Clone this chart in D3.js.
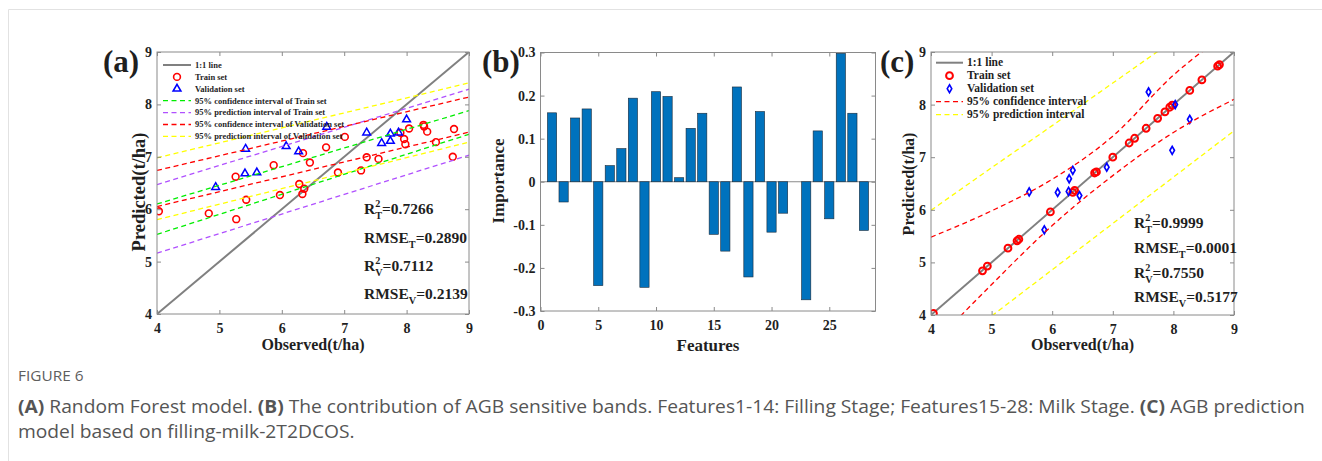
<!DOCTYPE html>
<html>
<head>
<meta charset="utf-8">
<script src="https://cdn.jsdelivr.net/npm/d3@7"></script>
<style>
  body { margin: 0; background: #fff; }
</style>
</head>
<body>
<svg id="fig" width="1322" height="461"></svg>
<script>
// ---------- data ----------
// (a) Random Forest model
var trainObsA  = [4.03, 4.83, 5.27, 5.26, 5.43, 5.87, 5.97, 6.28, 6.33, 6.36, 6.34, 6.45, 6.71, 6.90, 7.01, 7.27, 7.36, 7.55, 7.90, 7.96, 7.98, 8.04, 8.27, 8.28, 8.33, 8.47, 8.74, 8.76];
var trainPredA = [5.96, 5.92, 5.81, 6.62, 6.18, 6.84, 6.27, 6.48, 6.29, 6.39, 7.07, 6.89, 7.18, 6.70, 7.38, 6.74, 6.99, 6.96, 7.46, 7.34, 7.24, 7.54, 7.61, 7.58, 7.48, 7.28, 7.00, 7.53];
var valObsA  = [4.94, 5.41, 5.42, 5.60, 6.07, 6.27, 6.72, 7.36, 7.60, 7.74, 7.74, 7.87, 8.00];
var valPredA = [6.42, 6.68, 7.15, 6.70, 7.20, 7.10, 7.57, 7.46, 7.26, 7.30, 7.44, 7.46, 7.71];
var intervalXA = [4, 9];
var intervalNamesA = ["95% confidence interval of Train set", "95% prediction interval of Train set",
                      "95% confidence interval of Validation set", "95% prediction interval of Validation set"];
var intervalUpperA = [[6.10, 7.88], [6.47, 8.29], [6.74, 8.14], [6.98, 8.41]];
var intervalLowerA = [[5.52, 7.43], [5.16, 7.03], [6.05, 7.47], [5.80, 7.28]];
var statsA = [["R", "2", "T", "=0.7266"], ["RMSE", "", "T", "=0.2890"], ["R", "2", "V", "=0.7112"], ["RMSE", "", "V", "=0.2139"]];

// (b) contribution of the sensitive bands
var featureImportance = [0.160, -0.047, 0.148, 0.169, -0.241, 0.0375, 0.077, 0.194, -0.245, 0.209, 0.198, 0.0094, 0.124, 0.159,
                         -0.122, -0.161, 0.220, -0.221, 0.163, -0.117, -0.073, 0, -0.274, 0.118, -0.086, 0.298, 0.159, -0.113];
var featureTicks = [0, 5, 10, 15, 20, 25];
var importanceTicks = [-0.3, -0.2, -0.1, 0, 0.1, 0.2, 0.3];

// (c) filling-milk-2T2DCOS model
var trainObsC  = [4.04, 4.85, 4.93, 5.27, 5.42, 5.45, 5.97, 6.34, 6.37, 6.70, 6.73, 7.00, 7.27, 7.36, 7.55, 7.74, 7.86, 7.94, 7.98, 8.27, 8.47, 8.73, 8.76];
var trainPredC = [4.03, 4.84, 4.93, 5.27, 5.41, 5.44, 5.96, 6.33, 6.37, 6.70, 6.72, 7.00, 7.27, 7.36, 7.55, 7.74, 7.86, 7.95, 7.99, 8.27, 8.47, 8.73, 8.76];
var valObsC  = [5.62, 5.87, 6.09, 6.27, 6.28, 6.34, 6.45, 6.90, 7.59, 7.98, 8.03, 8.27];
var valPredC = [6.34, 5.62, 6.33, 6.35, 6.59, 6.75, 6.27, 6.81, 8.24, 7.13, 8.00, 7.72];
var intervalXC = [4, 5, 6, 7, 8, 9];
var intervalNamesC = ["95% confidence interval", "95% prediction interval"];
var intervalUpperC = [[5.48, 5.98, 6.58, 7.40, 8.56, 9.45], [5.99, 6.80, 7.60, 8.41, 9.22, 10.03]];
var intervalLowerC = [[3.40, 4.58, 5.70, 6.65, 7.47, 8.10], [3.10, 3.98, 4.86, 5.74, 6.62, 7.50]];
var statsC = [["R", "2", "T", "=0.9999"], ["RMSE", "", "T", "=0.0001"], ["R", "2", "V", "=0.7550"], ["RMSE", "", "V", "=0.5177"]];

var agbTicks = [4, 5, 6, 7, 8, 9];

// ---------- look ----------
var SERIF = "'Liberation Serif','Times New Roman',serif";
var AXIS_GREY = "#8a8a8a";
var INK = "#1f1f1f";

var fig = d3.select("#fig");

// thin page frame (top and left)
fig.append("line").attr("x1", 8.5).attr("y1", 9.5).attr("x2", 1322).attr("y2", 9.5).attr("stroke", "#e2e2e2");
fig.append("line").attr("x1", 8.5).attr("y1", 9.5).attr("x2", 8.5).attr("y2", 461).attr("stroke", "#e2e2e2");

function serifText(g, x, y, str, size, anchor) {
    return g.append("text").attr("x", x).attr("y", y).text(str)
        .attr("font-family", SERIF).attr("font-weight", "bold")
        .attr("font-size", size).attr("fill", INK)
        .attr("text-anchor", anchor || "start");
}

// MATLAB style box: ticks pointing in on all four sides, labels bottom/left
function boxAxes(g, x, y, xTicks, yTicks, xFmt, yFmt, yPad) {
    var xr = x.range(), yr = y.range();
    g.append("g").attr("class", "ax").attr("transform", "translate(0," + yr[0] + ")")
        .call(d3.axisBottom(x).tickValues(xTicks).tickSize(-4).tickPadding(9).tickFormat(xFmt));
    g.append("g").attr("class", "ax").attr("transform", "translate(0," + yr[1] + ")")
        .call(d3.axisTop(x).tickValues(xTicks).tickSize(-4).tickFormat(""));
    g.append("g").attr("class", "ax").attr("transform", "translate(" + xr[0] + ",0)")
        .call(d3.axisLeft(y).tickValues(yTicks).tickSize(-4).tickPadding(yPad).tickFormat(yFmt));
    g.append("g").attr("class", "ax").attr("transform", "translate(" + xr[1] + ",0)")
        .call(d3.axisRight(y).tickValues(yTicks).tickSize(-4).tickFormat(""));
    g.selectAll(".ax .domain").remove();
    g.selectAll(".ax line").attr("stroke", AXIS_GREY);
    g.selectAll(".ax text").attr("font-family", SERIF).attr("font-weight", "bold")
        .attr("font-size", 14).attr("fill", INK);
    g.append("rect").attr("x", xr[0]).attr("y", yr[1])
        .attr("width", xr[1] - xr[0]).attr("height", yr[0] - yr[1])
        .attr("fill", "none").attr("stroke", AXIS_GREY);
}

// R^2_T style label: superscript stacked over subscript
function statLine(g, x, y, parts, fs) {
    var t = serifText(g, x, y, null, fs);
    var small = fs * 0.66;
    t.append("tspan").text(parts[0]);
    if (parts[1]) {
        t.append("tspan").attr("font-size", small).attr("dy", -0.42 * fs).text(parts[1]);
        t.append("tspan").attr("font-size", small).attr("dx", -0.5 * small).attr("dy", 0.76 * fs).text(parts[2]);
    } else {
        t.append("tspan").attr("font-size", small).attr("dy", 0.34 * fs).text(parts[2]);
    }
    t.append("tspan").attr("dy", -0.34 * fs).text(parts[3]);
}

function marker(g, kind, cx, cy) {
    if (kind === "circle") {
        return g.append("circle").attr("cx", cx).attr("cy", cy).attr("r", 3.4)
            .attr("fill", "none").attr("stroke", "#ff0000").attr("stroke-width", 1.6);
    }
    var sym = kind === "triangle" ? d3.symbol(d3.symbolTriangle, 26) : d3.symbol(d3.symbolDiamond, 18);
    return g.append("path").attr("d", sym).attr("transform", "translate(" + cx + "," + cy + ")")
        .attr("fill", "none").attr("stroke", "#0000ff").attr("stroke-width", kind === "triangle" ? 1.5 : 1.7);
}

function scatterPanel(o) {
    var g = fig.append("g");
    var x = d3.scaleLinear().domain([4, 9]).range([o.left, o.right]);
    var y = d3.scaleLinear().domain([4, 9]).range([o.bottom, o.top]);
    var clipId = "clip" + o.tag;
    g.append("clipPath").attr("id", clipId).append("rect")
        .attr("x", o.left).attr("y", o.top).attr("width", o.right - o.left).attr("height", o.bottom - o.top);
    var plot = g.append("g").attr("clip-path", "url(#" + clipId + ")");

    // 1:1 line
    plot.append("line").attr("x1", x(4)).attr("y1", y(4)).attr("x2", x(9)).attr("y2", y(9))
        .attr("stroke", "#808080").attr("stroke-width", 2);

    for (var i = 0; i < o.trainObs.length; i++) {
        marker(plot, "circle", x(o.trainObs[i]), y(o.trainPred[i])).attr("stroke-width", o.circleWidth);
    }
    for (var j = 0; j < o.valObs.length; j++) {
        marker(plot, o.valMarker, x(o.valObs[j]), y(o.valPred[j]));
    }

    // interval lines
    var line = d3.line().curve(d3.curveMonotoneX);
    o.upper.forEach(function (vals, k) {
        [vals, o.lower[k]].forEach(function (v) {
            plot.append("path")
                .attr("d", line(o.xs.map(function (xv, n) { return [x(xv), y(v[n])]; })))
                .attr("fill", "none").attr("stroke", o.colors[k])
                .attr("stroke-width", 1.3).attr("stroke-dasharray", "5,3.5");
        });
    });

    boxAxes(g, x, y, agbTicks, agbTicks, d3.format("d"), d3.format("d"), 5);

    // legend, no box
    var lg = g.append("g");
    var entries = [{name: "1:1 line", kind: "solid"}, {name: "Train set", kind: "circle"},
                   {name: "Validation set", kind: o.valMarker}];
    o.names.forEach(function (n, k) { entries.push({name: n, kind: "dash", color: o.colors[k]}); });
    entries.forEach(function (e, k) {
        var ly = o.legTop + k * o.legStep;
        var lx1 = o.legX, lx2 = o.legX + o.legLen;
        if (e.kind === "solid") {
            lg.append("line").attr("x1", lx1).attr("x2", lx2).attr("y1", ly).attr("y2", ly)
                .attr("stroke", "#808080").attr("stroke-width", 2);
        } else if (e.kind === "dash") {
            lg.append("line").attr("x1", lx1).attr("x2", lx2).attr("y1", ly).attr("y2", ly)
                .attr("stroke", e.color).attr("stroke-width", 1.3).attr("stroke-dasharray", "5,3.5");
        } else {
            marker(lg, e.kind, (lx1 + lx2) / 2, ly).attr("stroke-width", e.kind === "circle" ? o.circleWidth : 1.6);
        }
        serifText(lg, lx2 + 4, ly + o.legFont * 0.33, e.name, o.legFont);
    });

    o.stats.forEach(function (s, k) { statLine(g, o.statX, o.statY[k], s, o.statFont); });

    serifText(g, o.tag === "a" ? 103 : 880, 72, "(" + o.tag + ")", 31);
    serifText(g, (o.left + o.right) / 2, 350, "Observed(t/ha)", 16, "middle");
    serifText(g, 0, 0, "Predicted(t/ha)", o.ylabFont, "middle")
        .attr("transform", "translate(" + o.ylabX + "," + o.ylabY + ") rotate(-90)");
}

// ---------- panel (a) ----------
scatterPanel({
    tag: "a", left: 157, right: 469, top: 52, bottom: 314,
    trainObs: trainObsA, trainPred: trainPredA, valObs: valObsA, valPred: valPredA,
    valMarker: "triangle", circleWidth: 1.6,
    xs: intervalXA, upper: intervalUpperA, lower: intervalLowerA, names: intervalNamesA,
    colors: ["#00ee00", "#b050ff", "#ff0000", "#ffff00"],
    legX: 163, legLen: 28, legTop: 65, legStep: 11.9, legFont: 8.5,
    stats: statsA, statX: 364, statY: [214, 243, 271, 299], statFont: 15.5,
    ylabX: 145, ylabY: 192, ylabFont: 18.5
});

// ---------- panel (b) ----------
(function () {
    var g = fig.append("g");
    var x = d3.scaleLinear().domain([0, 29]).range([540.5, 875.5]);
    var y = d3.scaleLinear().domain([-0.3, 0.3]).range([311, 52.5]);

    g.append("line").attr("x1", x(0)).attr("x2", x(29)).attr("y1", y(0)).attr("y2", y(0))
        .attr("stroke", AXIS_GREY);

    g.selectAll("rect.bar").data(featureImportance).enter().append("rect")
        .attr("class", "bar")
        .attr("x", function (d, i) { return x(i + 1 - 0.4); })
        .attr("width", function (d, i) { return x(i + 1.4) - x(i + 0.6); })
        .attr("y", function (d) { return y(Math.max(0, d)); })
        .attr("height", function (d) { return Math.abs(y(d) - y(0)); })
        .attr("fill", "#0072bd").attr("stroke", "#1a2a3a").attr("stroke-width", 0.6);

    boxAxes(g, x, y, featureTicks, importanceTicks, d3.format("d"),
        function (d) { return d === 0 ? "0" : String(Math.round(d * 10) / 10); }, 5);

    serifText(g, 482, 72, "(b)", 31);
    serifText(g, (540.5 + 875.5) / 2, 351, "Features", 17, "middle");
    serifText(g, 0, 0, "Importance", 17, "middle").attr("transform", "translate(504,181) rotate(-90)");
})();

// ---------- panel (c) ----------
scatterPanel({
    tag: "c", left: 931, right: 1234, top: 52, bottom: 315,
    trainObs: trainObsC, trainPred: trainPredC, valObs: valObsC, valPred: valPredC,
    valMarker: "diamond", circleWidth: 2,
    xs: intervalXC, upper: intervalUpperC, lower: intervalLowerC, names: intervalNamesC,
    colors: ["#ff0000", "#ffff00"],
    legX: 936, legLen: 27, legTop: 62.7, legStep: 13, legFont: 11.5,
    stats: statsC, statX: 1134, statY: [228, 253, 278, 302], statFont: 15.5,
    ylabX: 914, ylabY: 184, ylabFont: 16
});

// ---------- caption ----------
var cap = fig.append("g").attr("font-family", "'Open Sans', sans-serif");
var fig6 = cap.append("text").attr("font-size", 14).attr("fill", "#5e5e5e").text("FIGURE 6");
var line1 = [["(A)", 1], [" Random Forest model. ", 0], ["(B)", 1],
             [" The contribution of AGB sensitive bands. Features1-14: Filling Stage; Features15-28: Milk Stage. ", 0],
             ["(C)", 1], [" AGB prediction", 0]];
var t1 = cap.append("text").attr("font-size", 17.5).attr("fill", "#555");
line1.forEach(function (p) {
    t1.append("tspan").attr("font-weight", p[1] ? "bold" : "normal").text(p[0]);
});
var t2 = cap.append("text").attr("font-size", 17.5).attr("fill", "#555")
    .text("model based on filling-milk-2T2DCOS.");
// the caption type is narrower than Open Sans: squeeze to the width of the first line
var squeeze = 1288 / t1.node().getComputedTextLength();
fig6.attr("transform", "translate(18,381) scale(" + squeeze + ",1)");
t1.attr("transform", "translate(18,413) scale(" + squeeze + ",1)");
t2.attr("transform", "translate(18,438) scale(" + squeeze + ",1)");
</script>
</body>
</html>
